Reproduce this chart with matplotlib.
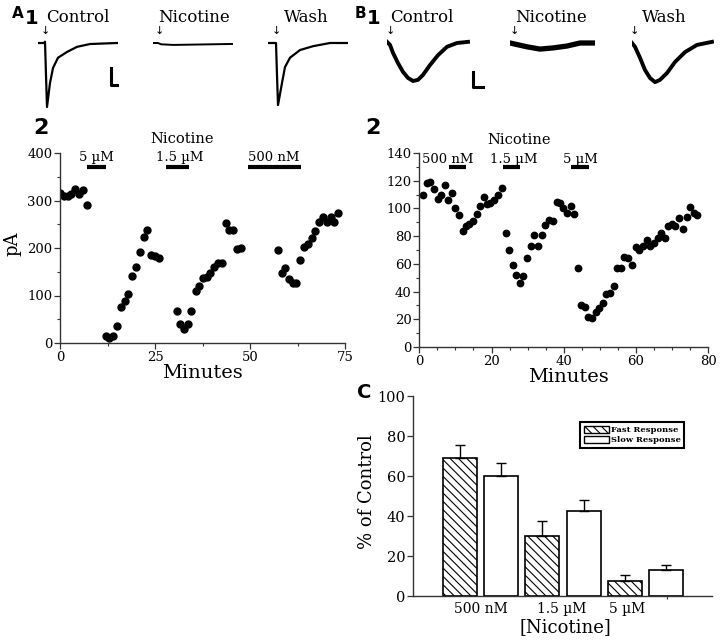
import matplotlib
matplotlib.use('Agg')
import matplotlib.pyplot as plt
from matplotlib.ticker import MultipleLocator, FixedLocator
from matplotlib.patches import Patch

plt.rcParams['font.family'] = 'DejaVu Serif'
plt.rcParams['hatch.linewidth'] = 0.8

# ---- A1 / B1 traces (time, normalised current) ----
a_ctrl_t = [0, 6, 7, 8, 9, 12, 15, 20, 29, 39, 52, 79]
a_ctrl_i = [0, 0, 0.02, -0.5, -1.0, -0.625, -0.39, -0.23, -0.14, -0.06, -0.016, 0]
a_nic_t = [0, 5, 8, 20, 40, 60, 79]
a_nic_i = [0, 0, -0.02, -0.03, -0.025, -0.02, -0.015]
a_wash_t = [0, 8, 9, 10, 14, 17, 22, 32, 45, 62, 79]
a_wash_i = [0, 0, -0.5, -0.97, -0.625, -0.375, -0.23, -0.11, -0.05, 0, 0]

b_ctrl_t = [0, 3, 6, 11, 16, 21, 26, 31, 36, 43, 51, 60, 70, 81]
b_ctrl_i = [0.03, -0.05, -0.26, -0.53, -0.76, -0.92, -1.0, -0.97, -0.84, -0.58, -0.32, -0.1, 0, 0.03]
b_nic_t = [0, 17, 30, 43, 57, 70, 83]
b_nic_i = [0, -0.1, -0.16, -0.13, -0.08, 0, 0]
b_wash_t = [0, 3, 8, 13, 18, 23, 28, 35, 43, 53, 65, 80]
b_wash_i = [0, -0.1, -0.39, -0.71, -0.92, -1.03, -0.97, -0.79, -0.5, -0.24, -0.05, 0.03]

# ---- A2: fast response time course ----
a_min = [0, 1, 2, 3, 4, 5, 6, 7,
         12, 13, 14, 15, 16, 17, 18, 19, 20, 21, 22, 23, 24, 25, 26,
         30.7, 31.7, 32.6, 33.7, 34.6, 35.8, 36.7, 37.6, 38.6, 39.6, 40.6, 41.7, 42.6, 43.6, 44.6, 45.6, 46.6, 47.5,
         57.3, 58.3, 59.3, 60.3, 61.3, 62.2, 63.2, 64.2, 65.2, 66.2, 67.2, 68.2, 69.2, 70.2, 71.2, 72.2, 73.2]
a_pA = [316, 310, 310, 314, 324, 314, 323, 290,
        15, 11, 15, 36, 76, 88, 103, 141, 159, 191, 224, 238, 186, 183, 179,
        68, 39, 30, 39, 67, 109, 121, 137, 139, 147, 159, 168, 168, 252, 237, 238, 198, 200,
        195, 148, 158, 134, 126, 126, 174, 203, 208, 221, 236, 255, 266, 254, 265, 255, 274]
a_drug = ['5 \u00b5M', '1.5 \u00b5M', '500 nM']
a_drug_on = [7.1, 27.9, 49.6]
a_drug_off = [12.1, 33.9, 63.3]
a_drug_lab_x = [9.7, 31.6, 56.3]

# ---- B2: slow response time course ----
b_min = [0.9, 2, 3, 4.1, 5.1, 6, 7.1, 8, 9, 10, 11, 12, 12.9, 13.8, 14.8, 15.9, 16.8, 17.9, 18.8, 19.7,
         20.8, 21.8, 22.9, 23.9, 24.9, 25.8, 26.8, 27.9, 28.8, 29.9, 30.9, 31.8, 32.8, 33.9, 34.8, 35.9,
         36.9, 38, 38.9, 39.9, 41, 41.9, 42.9, 43.9, 44.8, 45.8, 46.8, 47.8, 48.9, 49.8, 50.9, 51.8,
         52.8, 53.9, 54.8, 55.8, 56.8, 57.8, 58.9, 59.9, 60.9, 62, 62.9, 63.8, 64.9, 66, 66.9, 67.9,
         68.8, 69.9, 70.8, 71.9, 72.9, 74, 75, 76, 77]
b_pA = [110, 118, 119, 114, 107, 110, 117, 106, 111, 100, 95, 84, 87, 89, 91, 96, 102, 108, 103, 104,
        106, 110, 115, 82, 70, 59, 52, 46, 51, 64, 73, 81, 73, 81, 88, 92,
        91, 105, 104, 100, 97, 102, 96, 57, 30, 29, 22, 21, 25, 28, 32, 38,
        39, 44, 57, 57, 65, 64, 59, 72, 70, 73, 77, 73, 75, 79, 82, 79,
        87, 89, 87, 93, 85, 94, 101, 97, 95]
b_drug = ['500 nM', '1.5 \u00b5M', '5 \u00b5M']
b_drug_on = [8.1, 23.1, 42.0]
b_drug_off = [13.0, 27.9, 46.9]
b_drug_lab_x = [7.8, 26.2, 44.5]

# ---- C: summary ----
conc = ['500 nM', '1.5 \u00b5M', '5 \u00b5M']
fast_pct = [69.2, 30.0, 7.5]
fast_err = [6.1, 7.3, 3.2]
slow_pct = [60.0, 42.3, 13.2]
slow_err = [6.5, 5.5, 2.5]

W, H = 720, 641
fig = plt.figure(figsize=(W / 100, H / 100), dpi=100)


def px_axes(l, t, r, b):
    return fig.add_axes([l / W, 1 - b / H, (r - l) / W, (b - t) / H])


def ftext(x, y, s, **kw):
    fig.text(x / W, 1 - y / H, s, **kw)


# ---------- top row traces ----------
def trace_ax(l, t, r, b, tt, ii, xmax, ylim, lw, arrow_t):
    ax = px_axes(l, t, r, b)
    ax.plot(tt, ii, color='black', lw=lw, solid_joinstyle='round')
    ax.set_xlim(0, xmax)
    ax.set_ylim(*ylim)
    ax.axis('off')
    ax.text(arrow_t, ylim[1] * 0.35, '\u2193', ha='center', va='bottom', fontsize=8,
            family='DejaVu Sans')
    return ax


a_ylim = (-1.15, 0.3)
axc = trace_ax(38, 23.8, 118, 116.6, a_ctrl_t, a_ctrl_i, 80, a_ylim, 1.6, 7)
axc.plot([73, 73, 79], [-0.39, -0.66, -0.66], color='black', lw=2.2, clip_on=False)
trace_ax(153, 23.8, 233, 116.6, a_nic_t, a_nic_i, 80, a_ylim, 1.4, 6)
trace_ax(268, 23.8, 348, 116.6, a_wash_t, a_wash_i, 80, a_ylim, 1.6, 8)

b_ylim = (-1.3, 0.5)
bxc = trace_ax(387, 24, 487, 92.4, b_ctrl_t, b_ctrl_i, 100, b_ylim, 2.8, 3)
bxc.plot([86, 86, 96], [-0.76, -1.16, -1.16], color='black', lw=2.2, clip_on=False)
trace_ax(510, 24, 595, 92.4, b_nic_t, b_nic_i, 85, b_ylim, 3.8, 4)
trace_ax(632, 24, 714, 92.4, b_wash_t, b_wash_i, 82, b_ylim, 2.8, 2)

for x, s in [(78, 'Control'), (194, 'Nicotine'), (306, 'Wash'),
             (422, 'Control'), (551, 'Nicotine'), (664, 'Wash')]:
    ftext(x, 17, s, ha='center', va='center', fontsize=12)

bold = dict(family='DejaVu Sans', weight='bold', ha='center', va='center')
ftext(18, 14, 'A', fontsize=11, **bold)
ftext(32, 19, '1', fontsize=14, **bold)
ftext(360, 14, 'B', fontsize=11, **bold)
ftext(374, 19, '1', fontsize=14, **bold)
ftext(41, 128, '2', fontsize=16, **bold)
ftext(373, 128, '2', fontsize=16, **bold)
ftext(364, 393, 'C', fontsize=14, **bold)


def style(ax):
    for s in ['top', 'right']:
        ax.spines[s].set_visible(False)
    for s in ['left', 'bottom']:
        ax.spines[s].set_color('#333333')
        ax.spines[s].set_linewidth(1)
    ax.tick_params(which='major', direction='out', length=4, width=0.9, labelsize=9.5,
                   color='#333333', pad=1.5)
    ax.tick_params(which='minor', direction='out', length=2.5, width=0.8, color='#333333')


# ---------- A2 ----------
ax2 = px_axes(60, 153, 345, 343)
ax2.plot(a_min, a_pA, 'o', color='black', ms=5)
ax2.set_xlim(0, 75)
ax2.set_ylim(0, 400)
ax2.xaxis.set_major_locator(MultipleLocator(25))
ax2.xaxis.set_minor_locator(MultipleLocator(12.5))
ax2.yaxis.set_major_locator(MultipleLocator(100))
ax2.yaxis.set_minor_locator(MultipleLocator(50))
style(ax2)
ax2.set_xlabel('Minutes', fontsize=14, labelpad=0)
ax2.xaxis.set_label_coords(0.5, -0.11)
ax2.set_ylabel('pA', fontsize=13)
ax2.yaxis.set_label_coords(-0.135, 0.52)
for lab, on, off, lx in zip(a_drug, a_drug_on, a_drug_off, a_drug_lab_x):
    ax2.plot([on, off], [371, 371], color='black', lw=3, clip_on=False, solid_capstyle='butt')
    ax2.text(lx, 390, lab, ha='center', va='center', fontsize=9.5)
ax2.text(32, 430, 'Nicotine', ha='center', va='center', fontsize=10.5)

# ---------- B2 ----------
bx2 = px_axes(419.3, 153, 708.3, 347)
bx2.plot(b_min, b_pA, 'o', color='black', ms=4.6)
bx2.set_xlim(0, 80)
bx2.set_ylim(0, 140)
bx2.xaxis.set_major_locator(MultipleLocator(20))
bx2.xaxis.set_minor_locator(MultipleLocator(5))
bx2.yaxis.set_major_locator(MultipleLocator(20))
bx2.yaxis.set_minor_locator(MultipleLocator(10))
style(bx2)
bx2.set_xlabel('Minutes', fontsize=14, labelpad=0)
bx2.xaxis.set_label_coords(0.515, -0.11)
for lab, on, off, lx in zip(b_drug, b_drug_on, b_drug_off, b_drug_lab_x):
    bx2.plot([on, off], [129.6, 129.6], color='black', lw=3, clip_on=False, solid_capstyle='butt')
    bx2.text(lx, 135.6, lab, ha='center', va='center', fontsize=9.5)
bx2.text(27.6, 149.7, 'Nicotine', ha='center', va='center', fontsize=10.5)

# ---------- C ----------
cx = px_axes(413, 396, 712, 596)
pos = [0, 1, 2]
bw = 0.41
fx = [p - 0.25 for p in pos]
sx = [p + 0.25 for p in pos]
cx.bar(fx, fast_pct, width=bw, color='white', edgecolor='black', lw=1.2,
       hatch='\\\\\\\\', zorder=2)
cx.bar(sx, slow_pct, width=bw, color='white', edgecolor='black', lw=1.2, zorder=2)
cx.errorbar(fx, fast_pct, yerr=[[0] * 3, fast_err], fmt='none', ecolor='black',
            elinewidth=1, capsize=3.5, capthick=1, zorder=3)
cx.errorbar(sx, slow_pct, yerr=[[0] * 3, slow_err], fmt='none', ecolor='black',
            elinewidth=1, capsize=3.5, capthick=1, zorder=3)
cx.set_xlim(-0.818, 2.806)
cx.set_ylim(0, 100)
cx.yaxis.set_major_locator(MultipleLocator(20))
style(cx)
cx.set_xticks([0.01, 0.99, 1.78])
cx.set_xticklabels(conc)
cx.tick_params(axis='x', which='major', length=0, pad=4, labelsize=10)
cx.tick_params(axis='y', labelsize=10.5)
cx.xaxis.set_minor_locator(FixedLocator([2.26]))
cx.set_xlabel('[Nicotine]', fontsize=13, labelpad=0)
cx.xaxis.set_label_coords(0.51, -0.11)
cx.set_ylabel('% of Control', fontsize=13)
cx.yaxis.set_label_coords(-0.124, 0.52)
handles = [Patch(facecolor='white', edgecolor='black', hatch='\\\\\\\\'),
           Patch(facecolor='white', edgecolor='black')]
leg = cx.legend(handles, ['Fast Response', 'Slow Response'], loc='upper left',
                bbox_to_anchor=(0.545, 0.89), prop={'weight': 'bold', 'size': 6},
                fancybox=False, edgecolor='black', framealpha=1, borderpad=0.45,
                labelspacing=0.2, handletextpad=0.2, handlelength=3.0, handleheight=0.9)
leg.get_frame().set_linewidth(1.5)

fig.savefig('out.png', dpi=100)
